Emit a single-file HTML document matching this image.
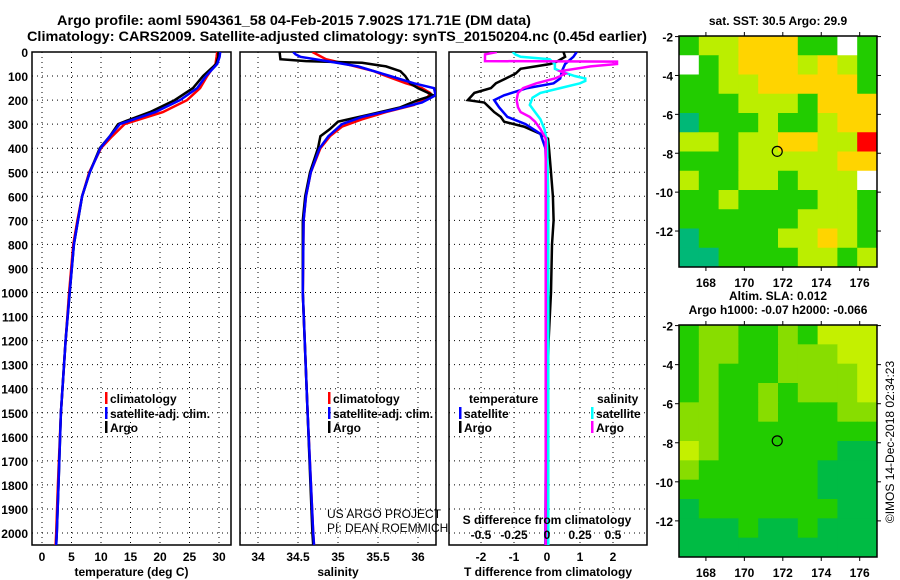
<!DOCTYPE html>
<html><head><meta charset="utf-8"><style>
html,body{margin:0;padding:0;background:#fff;}
svg{display:block;font-family:"Liberation Sans",sans-serif;}
</style></head><body>
<svg id="c" width="900" height="580" viewBox="0 0 900 580" xmlns="http://www.w3.org/2000/svg">
<text x="294" y="25" text-anchor="middle" font-size="14" font-weight="bold" textLength="474" lengthAdjust="spacingAndGlyphs">Argo profile: aoml 5904361_58 04-Feb-2015 7.902S 171.71E (DM data)</text>
<text x="337" y="41" text-anchor="middle" font-size="14" font-weight="bold" textLength="620" lengthAdjust="spacingAndGlyphs">Climatology: CARS2009. Satellite-adjusted climatology: synTS_20150204.nc (0.45d earlier)</text>
</svg>
<script>
// ---------- data ----------
const depthTicks=[0,100,200,300,400,500,600,700,800,900,1000,1100,1200,1300,1400,1500,1600,1700,1800,1900,2000];
const tempTicks=[0,5,10,15,20,25,30];
const salTicks=[34,34.5,35,35.5,36];
const tdiffTicks=[-2,-1,0,1,2];
const sdiffTicks=[-0.5,-0.25,0,0.25,0.5];
const lonTicks=[168,170,172,174,176];
const latTicks=[-2,-4,-6,-8,-10,-12];

const tArgoD=[0,20,50,100,150,200,250,280,300,350,400,500,600,700,800,1000,1200,1500,1800,2000,2050];
const tArgo=[29.9,29.9,29.5,27.3,25.6,22.5,18.3,15,12.9,11.5,9.8,8.1,6.8,6.1,5.4,4.7,4.0,3.2,2.8,2.5,2.4];
const tClimD=[0,20,50,100,150,200,250,300,350,400,500,600,700,800,1000,1200,1500,1800,2000,2050];
const tClim=[29.7,29.6,29.4,28.0,26.8,24.6,20.5,14.0,11.9,10.0,8.0,6.8,6.0,5.3,4.6,4.0,3.2,2.7,2.4,2.3];
const tSatD=[0,20,50,100,150,200,250,300,350,400,500,600,700,800,1000,1200,1500,1800,2000,2050];
const tSat=[30.2,30.1,29.7,27.8,26.3,23.4,19.2,13.2,11.5,9.9,8.1,6.8,6.1,5.4,4.7,4.0,3.2,2.8,2.5,2.4];

const sArgoD=[0,30,38,45,60,80,100,130,150,180,200,230,260,290,320,350,400,500,600,700,1000,1500,2000,2050];
const sArgo=[34.27,34.28,34.6,35.3,35.6,35.78,35.84,35.9,36.0,36.19,36.0,35.78,35.4,35.0,34.9,34.78,34.75,34.65,34.59,34.56,34.56,34.62,34.68,34.69];
const sClimD=[0,30,50,80,100,130,150,170,190,220,250,280,310,350,400,500,600,700,1000,1500,2000,2050];
const sClim=[34.68,34.85,35.1,35.45,35.6,35.85,36.05,36.15,36.12,35.95,35.6,35.3,35.05,34.9,34.78,34.66,34.6,34.57,34.56,34.62,34.69,34.7];
const sSatD=[0,10,20,40,60,100,130,150,180,210,240,270,300,350,400,500,600,700,1000,1500,2000,2050];
const sSat=[34.44,34.47,34.53,34.9,35.25,35.65,35.95,36.2,36.22,36.05,35.7,35.3,35.05,34.88,34.77,34.66,34.6,34.57,34.56,34.62,34.69,34.7];

const dTArgoD=[0,20,40,50,70,90,110,130,150,170,200,210,230,250,270,290,310,340,360,400,500,600,700,800,1000,1200,1500,2000,2050];
const dTArgo=[0.5,0.55,0.3,0.1,-0.8,-0.95,-1.25,-1.55,-1.7,-2.2,-2.4,-1.9,-1.75,-1.6,-1.4,-1.3,-0.7,-0.2,0.03,0.06,0.12,0.18,0.2,0.15,0.12,0.05,0.0,0.0,0.0];
const dTSatD=[0,20,50,80,110,130,150,180,200,230,270,300,340,400,600,2000,2050];
const dTSat=[0.9,0.8,0.55,0.45,0.4,0.2,-0.6,-1.3,-1.6,-1.45,-1.2,-0.65,-0.2,-0.05,0.0,-0.05,-0.05];
const dSArgoD=[0,10,38,40,50,60,80,90,110,130,150,170,200,230,250,270,290,320,360,600,2000,2050];
const dSArgo=[-0.38,-0.47,-0.47,0.53,0.53,0.33,0.1,0.14,0.06,-0.08,-0.18,-0.22,-0.23,-0.22,-0.2,-0.13,-0.09,-0.05,-0.01,-0.01,-0.01,-0.01];
const dSSatD=[0,10,20,30,50,70,80,100,110,120,130,150,170,190,220,250,280,320,370,600,2000,2050];
const dSSat=[-0.26,-0.24,-0.2,0.02,0.06,0.06,0.1,0.21,0.29,0.29,0.25,0.1,-0.05,-0.11,-0.13,-0.09,-0.05,-0.02,0.0,0.01,0.01,0.01];

const sstGrid=["GLLYYYGGWG","WGLYYYLYLG","GGLLYYYYYG","GGGLLLGYYY","TGGGLGGLYY","LLGLLYYLLR","GGGLLLLLYY","LGGLLGLLLW","GGLGGGGLLG","GGGGGGLLLG","TGGGGLLYLG","TTGGGGLLGL"];
const slaGrid=["GMMGGMGLLL","GMMGGMMMLL","GMGGGMMMML","GMGGMGMMML","MMGGMGGGMM","MMGGGGGGGG","LMGGGGGGDD","MGGGGGGDDD","GGGGGGGDDD","DGGGGGGGDD","DDDGDDGDDD","DDDDDDDDDD"];
const sstColors={G:"#22cc00",L:"#bbee00",Y:"#ffd400",W:"#ffffff",T:"#00b877",R:"#ff0000"};
const slaColors={G:"#22cc00",M:"#88dd00",L:"#c4f000",D:"#00bb44"};
const argoLon=171.71, argoLat=-7.902;

// ---------- helpers ----------
const NS="http://www.w3.org/2000/svg";
const svg=document.getElementById('c');
function mk(tag,attrs,parent){const e=document.createElementNS(NS,tag);for(const k in attrs)e.setAttribute(k,attrs[k]);(parent||svg).appendChild(e);return e;}
const yD=d=>52+d*0.2405;
const xT=v=>42+v*5.9;
const xS=v=>258+(v-34)*80;
const xTd=v=>547+v*33;
const xSd=v=>547+v*132;

function panel(x0,x1,xTicks,xf,labelFmt,xlabel,name){
  const g=mk('g',{});
  
  
  depthTicks.forEach(d=>{
    const l=mk('line',{x1:x0,x2:x1,y1:yD(d),y2:yD(d),stroke:'#000','stroke-width':1,'stroke-dasharray':'1,4'},g);
    
    
  });
  xTicks.forEach(v=>{
    const l=mk('line',{x1:xf(v),x2:xf(v),y1:52,y2:545,stroke:'#000','stroke-width':1,'stroke-dasharray':'1,4'},g);
    
    
    if(labelFmt){
      const t=mk('text',{x:xf(v),y:561,'text-anchor':'middle','font-size':12,'font-weight':'bold'},g);
      t.textContent=labelFmt(v);
      
      
    }
  });
  const r=mk('rect',{x:x0,y:52,width:x1-x0,height:493,fill:'none',stroke:'#000','stroke-width':1.5},g);
  
  
  const xl=mk('text',{x:(x0+x1)/2,y:576,'text-anchor':'middle','font-size':12,'font-weight':'bold'},g);
  xl.textContent=xlabel;
  
  
  return g;
}
function series(ds,vs,xf,color,name,x0,x1){
  const pts=ds.map((d,i)=>xf(vs[i]).toFixed(1)+','+yD(d).toFixed(1)).join(' ');
  const cp='clip-'+name;
  const c=mk('clipPath',{id:cp});
  mk('rect',{x:x0,y:52,width:x1-x0,height:493},c);
  const p=mk('polyline',{points:pts,fill:'none',stroke:color,'stroke-width':2.5,'clip-path':'url(#'+cp+')'});
  
  
}
function legend(x,y,color,label){
  if(color){
    const b=mk('rect',{x:x,y:y-11,width:2.5,height:12,fill:color});
    
    
  }
  const t=mk('text',{x:x+5,y:y,'font-size':12,'font-weight':'bold'});
  t.textContent=label;
  
  
}

// y tick labels
depthTicks.forEach(d=>{
  const t=mk('text',{x:28,y:yD(d)+5,'text-anchor':'end','font-size':12,'font-weight':'bold'});
  t.textContent=d;
  
  
});

panel(32,231,tempTicks,xT,v=>v,'temperature (deg C)','temperature-panel');
panel(240,436,salTicks,xS,v=>v,'salinity','salinity-panel');
panel(449,647,tdiffTicks,xTd,v=>v,'T difference from climatology','difference-panel');

series(tClimD,tClim,xT,'#ff0000','temp-climatology-line',32,231);
series(tArgoD,tArgo,xT,'#000000','temp-argo-line',32,231);
series(tSatD,tSat,xT,'#0000ff','temp-satellite-line',32,231);
series(sClimD,sClim,xS,'#ff0000','sal-climatology-line',240,436);
series(sArgoD,sArgo,xS,'#000000','sal-argo-line',240,436);
series(sSatD,sSat,xS,'#0000ff','sal-satellite-line',240,436);
series(dTArgoD,dTArgo,xTd,'#000000','tdiff-argo-line',449,647);
series(dTSatD,dTSat,xTd,'#0000ff','tdiff-satellite-line',449,647);
series(dSSatD,dSSat,xSd,'#00ffff','sdiff-satellite-line',449,647);
series(dSArgoD,dSArgo,xSd,'#ff00ff','sdiff-argo-line',449,647);

legend(105,403,'#ff0000','climatology');
legend(105,418,'#0000ff','satellite-adj. clim.');
legend(105,432,'#000','Argo');
legend(328,403,'#ff0000','climatology');
legend(328,418,'#0000ff','satellite-adj. clim.');
legend(328,432,'#000','Argo');
legend(464,403,null,'temperature');
legend(592,403,null,'salinity');
legend(459,418,'#0000ff','satellite');
legend(459,432,'#000','Argo');
legend(591,418,'#00ffff','satellite');
legend(591,432,'#ff00ff','Argo');

const sdt=mk('text',{x:547,y:524,'text-anchor':'middle','font-size':12,'font-weight':'bold'});
sdt.textContent='S difference from climatology';


sdiffTicks.forEach(v=>{
  const t=mk('text',{x:xSd(v),y:539,'text-anchor':'middle','font-size':12,'font-weight':'bold'});
  t.textContent=v;
  
  
});
['US ARGO PROJECT','PI: DEAN ROEMMICH'].forEach((s,i)=>{
  const t=mk('text',{x:327,y:518+i*14,'font-size':12});
  t.textContent=s;
  
  
});

// ---------- maps ----------
function map(top,bottom,grid,colors,titles,name){
  const x0=679,x1=877,lonMin=166.6,lonMax=176.9,latTop=-1.97,latBot=-13.85;
  const xL=v=>x0+(v-lonMin)/(lonMax-lonMin)*(x1-x0);
  const yL=v=>top+(latTop-v)/(latTop-latBot)*(bottom-top);
  const g=mk('g',{});
  
  
  const rows=grid.length,cols=grid[0].length;
  const cw=(x1-x0)/cols,ch=(bottom-top)/rows;
  grid.forEach((row,r)=>{[...row].forEach((k,c)=>{
    const cell=mk('rect',{x:x0+c*cw,y:top+r*ch,width:cw+0.5,height:ch+0.5,fill:colors[k]},g);
    
    
  });});
  const fr=mk('rect',{x:x0,y:top,width:x1-x0,height:bottom-top,fill:'none',stroke:'#000','stroke-width':1.5},g);
  
  
  lonTicks.forEach(v=>{
    mk('line',{x1:xL(v),x2:xL(v),y1:top-4,y2:top,stroke:'#000'},g);
    mk('line',{x1:xL(v),x2:xL(v),y1:bottom,y2:bottom+4,stroke:'#000'},g);
    const t=mk('text',{x:xL(v),y:bottom+20,'text-anchor':'middle','font-size':12,'font-weight':'bold'},g);
    t.textContent=v;
    
    
  });
  latTicks.forEach(v=>{
    mk('line',{x1:x0-4,x2:x0,y1:yL(v),y2:yL(v),stroke:'#000'},g);
    mk('line',{x1:x1,x2:x1+4,y1:yL(v),y2:yL(v),stroke:'#000'},g);
    const t=mk('text',{x:673,y:yL(v)+5,'text-anchor':'end','font-size':12,'font-weight':'bold'},g);
    t.textContent=v;
    
    
  });
  const m=mk('circle',{cx:xL(argoLon),cy:yL(argoLat),r:5,fill:'none',stroke:'#000','stroke-width':1.2},g);
  
  
  const n=titles.length;
  titles.forEach((s,i)=>{
    const t=mk('text',{x:778,y:top-11-(n-1-i)*14,'text-anchor':'middle','font-size':12,'font-weight':'bold'},g);
    t.textContent=s;
    
    
  });
}
map(36,267,sstGrid,sstColors,['sat. SST: 30.5 Argo: 29.9'],'sst-map');
map(325,557,slaGrid,slaColors,['Altim. SLA: 0.012','Argo h1000: -0.07 h2000: -0.066'],'sla-map');

const cr=mk('text',{x:894,y:442,'text-anchor':'middle','font-size':12,transform:'rotate(-90 894 442)'});
cr.textContent='©IMOS 14-Dec-2018 02:34:23';


</script>
</body></html>
